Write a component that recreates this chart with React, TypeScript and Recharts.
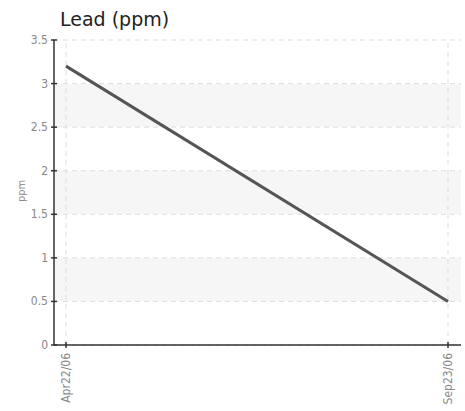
import React from 'react';
import { LineChart, Line, XAxis, YAxis, CartesianGrid, ReferenceLine } from 'recharts';

const dates = ['Apr22/06', 'Sep23/06'];
const leadValues = [3.2, 0.5];
const yTicks = [0, 0.5, 1, 1.5, 2, 2.5, 3, 3.5];

const data = dates.map((d, i) => ({ date: d, lead: leadValues[i] }));

const FONT = '"DejaVu Sans Condensed", "DejaVu Sans", sans-serif';

const YTick = (props: any) => {
  const { x, y, payload } = props;
  return (
    <g>
      <line x1={x - 3} x2={x + 3} y1={y} y2={y} stroke="#333" strokeWidth={1.5} />
      <text x={x - 6} y={y} dy={4} textAnchor="end" fill="#888" fontSize={12} fontFamily={FONT}>
        {payload.value}
      </text>
    </g>
  );
};

const XTick = (props: any) => {
  const { x, y, payload } = props;
  return (
    <g>
      <line x1={x} x2={x} y1={y - 3} y2={y + 3} stroke="#333" strokeWidth={1.5} />
      <text
        x={x + 4}
        y={y + 8}
        textAnchor="end"
        fill="#888"
        fontSize={12}
        fontFamily={FONT}
        transform={`rotate(-90 ${x + 4} ${y + 8})`}
      >
        {payload.value}
      </text>
    </g>
  );
};

export default function App() {
  return (
    <div style={{ position: 'absolute', left: 0, top: 0, width: 465, height: 411, background: '#fff' }}>
      <div
        style={{
          position: 'absolute',
          left: 60,
          top: 8,
          fontSize: 19,
          lineHeight: '22px',
          fontFamily: '"DejaVu Sans", sans-serif',
          color: '#222',
          whiteSpace: 'nowrap',
        }}
      >
        Lead (ppm)
      </div>
      <LineChart width={465} height={411} data={data} margin={{ top: 40, right: 4, bottom: 0, left: 0 }}>
        <CartesianGrid
          stroke="#dddddd"
          strokeDasharray="5 4"
          vertical={false}
          horizontalValues={yTicks}
          horizontalFill={['#ffffff', '#f6f6f6']}
          fillOpacity={1}
        />
        {dates.map((d) => (
          <ReferenceLine key={d} x={d} stroke="#dddddd" strokeDasharray="5 4" />
        ))}
        <XAxis
          dataKey="date"
          height={66}
          padding={{ left: 12, right: 13 }}
          axisLine={{ stroke: '#333', strokeWidth: 1.5 }}
          tickLine={false}
          tickSize={0}
          tickMargin={0}
          tick={<XTick />}
          interval={0}
        />
        <YAxis
          type="number"
          domain={[0, 3.5]}
          ticks={yTicks}
          width={54}
          axisLine={{ stroke: '#333', strokeWidth: 1.5 }}
          tickLine={false}
          tickSize={0}
          tickMargin={0}
          tick={<YTick />}
          interval={0}
          label={() => (
            <text
              x={25}
              y={191}
              textAnchor="middle"
              fill="#888"
              fontSize={11}
              fontFamily={FONT}
              transform="rotate(-90 25 191)"
            >
              ppm
            </text>
          )}
        />
        <Line
          type="linear"
          dataKey="lead"
          stroke="#555"
          strokeWidth={3}
          dot={false}
          activeDot={false}
          isAnimationActive={false}
        />
      </LineChart>
    </div>
  );
}
